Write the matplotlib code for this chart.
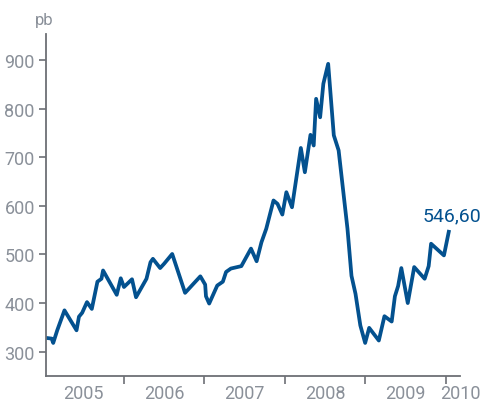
import matplotlib.pyplot as plt
from matplotlib import font_manager

# spread series (decimal years, basis points)
years = [2005.05, 2005.10, 2005.12, 2005.17, 2005.26, 2005.41, 2005.44, 2005.48,
         2005.54, 2005.60, 2005.67, 2005.72, 2005.74, 2005.91, 2005.96, 2006.00,
         2006.10, 2006.15, 2006.28, 2006.33, 2006.36, 2006.45, 2006.50, 2006.60,
         2006.76, 2006.95, 2007.01, 2007.02, 2007.06, 2007.16, 2007.23, 2007.27,
         2007.33, 2007.46, 2007.58, 2007.65, 2007.71, 2007.77, 2007.86, 2007.91,
         2007.97, 2008.02, 2008.09, 2008.20, 2008.25, 2008.32, 2008.36, 2008.39,
         2008.44, 2008.48, 2008.54, 2008.61, 2008.67, 2008.78, 2008.83, 2008.88,
         2008.94, 2009.00, 2009.05, 2009.17, 2009.24, 2009.33, 2009.37, 2009.41,
         2009.45, 2009.53, 2009.61, 2009.74, 2009.79, 2009.82, 2009.98, 2010.04]
spread = [328, 327, 318, 344, 385, 344, 372, 380,
          402, 388, 444, 450, 467, 417, 451, 433,
          449, 412, 450, 484, 491, 472, 481, 501,
          421, 455, 438, 414, 399, 436, 444, 464,
          471, 476, 512, 486, 525, 553, 611, 604,
          582, 628, 597, 719, 669, 746, 724, 820,
          782, 851, 892, 745, 714, 553, 456, 419,
          354, 318, 349, 323, 373, 362, 414, 435,
          472, 400, 474, 450, 476, 522, 498, 546.6]

year_labels = ["2005", "2006", "2007", "2008", "2009", "2010"]
year_label_pos = [2005.5, 2006.5, 2007.5, 2008.5, 2009.5, 2010.18]
year_ticks = [2006, 2007, 2008, 2009, 2010]
y_ticks = [300, 400, 500, 600, 700, 800, 900]

names = {f.name for f in font_manager.fontManager.ttflist}
font = "Liberation Sans Narrow" if "Liberation Sans Narrow" in names else "Roboto"
plt.rcParams["font.family"] = [font, "DejaVu Sans"]

blue = "#03518f"
grey = "#8a9099"
axis_grey = "#6d7075"

fig = plt.figure(figsize=(4.82, 4.06), dpi=100)
ax = fig.add_axes([0.0954, 0.0714, 0.859, 0.842])

ax.plot(years, spread, color=blue, lw=2.7, solid_joinstyle="round")

ax.set_xlim(2005.03, 2010.16)
ax.set_ylim(250, 953)

ax.set_yticks(y_ticks)
ax.set_xticks(year_ticks)
ax.set_xticklabels([])
ax.set_xticks(year_label_pos, minor=True)
ax.set_xticklabels(year_labels, minor=True)

for side in ["top", "right"]:
    ax.spines[side].set_visible(False)
for side in ["left", "bottom"]:
    ax.spines[side].set_color(axis_grey)
    ax.spines[side].set_linewidth(1.3)

ax.tick_params(axis="y", direction="out", length=5, width=1.2, color=axis_grey,
               labelcolor=grey, labelsize=13, pad=3)
ax.tick_params(axis="x", which="major", direction="out", length=6, width=1.2,
               color=axis_grey)
ax.tick_params(axis="x", which="minor", length=0, labelcolor=grey,
               labelsize=13, pad=6)

ax.text(-0.005, 1.02, "pb", transform=ax.transAxes, ha="center", va="bottom",
        color=grey, fontsize=12)
fig.text(0.998, 0.466, "546,60", color=blue, fontsize=14, ha="right",
         va="center")

fig.savefig("out.png", dpi=100)
